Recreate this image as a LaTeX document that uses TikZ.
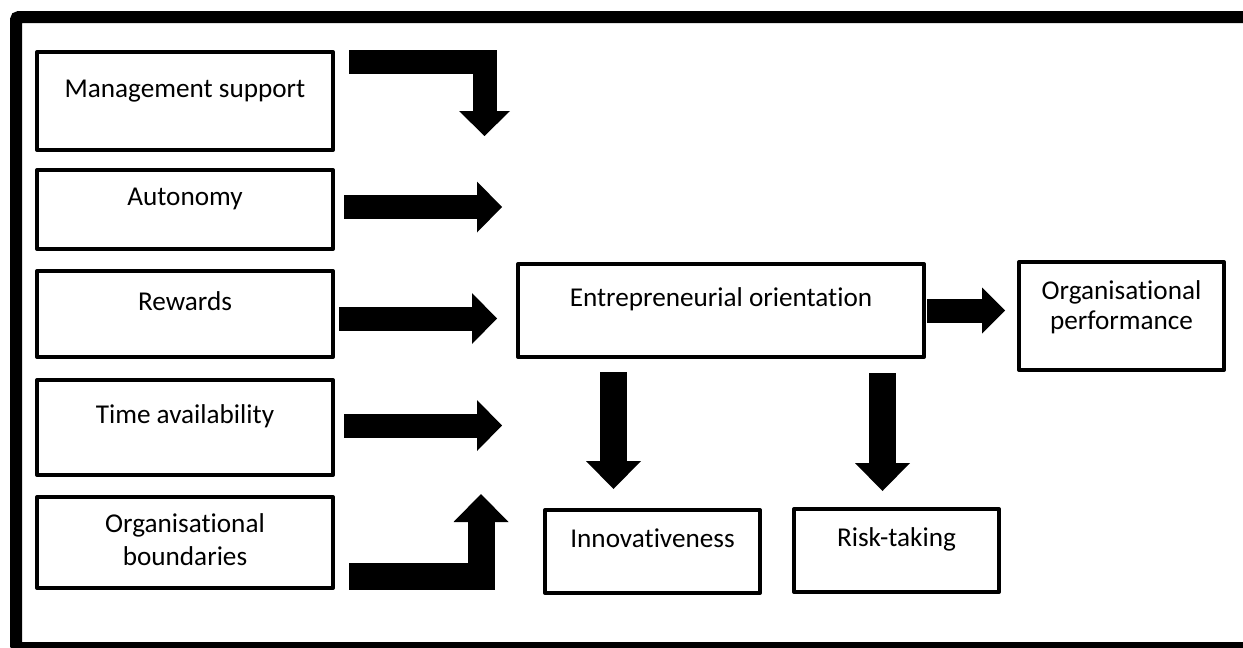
\documentclass[tikz,border=0pt]{standalone}
\usepackage{fontspec}
\setmainfont{Carlito}[Ligatures=NoCommon]
\usepackage{tikz}
\usetikzlibrary{arrows.meta,positioning}

\newcommand{\boxfont}{\fontsize{27.2}{32}\selectfont}

\tikzset{
  cbox/.style={draw, line width=4pt, line join=round, inner sep=0pt,
    font=\boxfont, text height=18pt, text depth=26pt},
  cboxtwo/.style={draw, line width=4pt, line join=round, inner sep=0pt,
    font=\boxfont, align=center},
  fatarrow/.style={line width=24pt, line join=miter,
    -{Triangle[length=25pt, width=51pt, line width=0pt]}},
  fatarrowb/.style={line width=27pt, line join=miter,
    -{Triangle[length=28pt, width=55pt, line width=0pt]}},
}

\begin{document}
\begin{tikzpicture}[x=1pt, y=-1pt]

%% ── Canvas (1 unit = 1pt, y downwards) ───────────────────────────────────────
\useasboundingbox (0,0) rectangle (1243,648);
\clip (0,0) rectangle (1243,648);

%% ── Outer frame (runs off the right and bottom edges) ───────────────────────
\draw[line width=12pt, rounded corners=3pt] (16,17) rectangle (1262,648);

%% ── Left column ──────────────────────────────────────────────────────────────
\node[cbox, minimum width=296pt, minimum height=98pt] (ms) at (185,101)
  {Management support};
\node[cbox, minimum width=296pt, minimum height=79pt] (au) at (185,209.5)
  {Autonomy};
\node[cbox, minimum width=296pt, minimum height=86pt] (rw) at (185,314)
  {Rewards};
\node[cbox, minimum width=296pt, minimum height=95pt] (ta) at (185,427.5)
  {Time availability};
\node[cboxtwo, minimum width=296pt, minimum height=91pt, text depth=6pt]
  (ob) at (185,542.5) {Organisational\\[1pt]boundaries};

%% ── Centre and right ─────────────────────────────────────────────────────────
\node[cbox, minimum width=406pt, minimum height=93pt] (eo) at (721,310.5)
  {Entrepreneurial orientation};
\node[cboxtwo, minimum width=205pt, minimum height=108pt, text depth=21pt]
  (op) at (1121.5,316) {Organisational\\[-2pt]performance};
\node[cbox, minimum width=215pt, minimum height=83pt] (in) at (652.5,551.5)
  {Innovativeness};
\node[cbox, minimum width=205pt, minimum height=83pt] (rt) at (896.5,550.5)
  {Risk-taking};

%% ── Arrow tips ───────────────────────────────────────────────────────────────
\coordinate (msTip) at (484.5,136);
\coordinate (auTip) at (502,207);
\coordinate (rwTip) at (497,318.5);
\coordinate (taTip) at (502,425.5);
\coordinate (obTip) at (481,494);
\coordinate (inTip) at (613.5,489);
\coordinate (rtTip) at (882.5,491);

%% ── Block arrows ─────────────────────────────────────────────────────────────
\draw[fatarrow] ([shift={(14pt,-12pt)}]ms.north east) -| (msTip);
\draw[fatarrow, shorten <=9pt] (au.east |- auTip) -- (auTip);
\draw[fatarrow, shorten <=4pt] (rw.east |- rwTip) -- (rwTip);
\draw[fatarrow, shorten <=9pt] (ta.east |- taTip) -- (taTip);
\draw[fatarrowb] ([shift={(14pt,13.5pt)}]ob.south east) -| (obTip);

\draw[line width=24pt, -{Triangle[length=23pt, width=46pt, line width=0pt]},
  shorten <=1pt, shorten >=12pt] (eo.east) -- (eo.east -| op.west);
\draw[fatarrowb, shorten <=13pt] (eo.south -| inTip) -- (inTip);
\draw[fatarrowb, shorten <=14pt] (eo.south -| rtTip) -- (rtTip);

\end{tikzpicture}
\end{document}
